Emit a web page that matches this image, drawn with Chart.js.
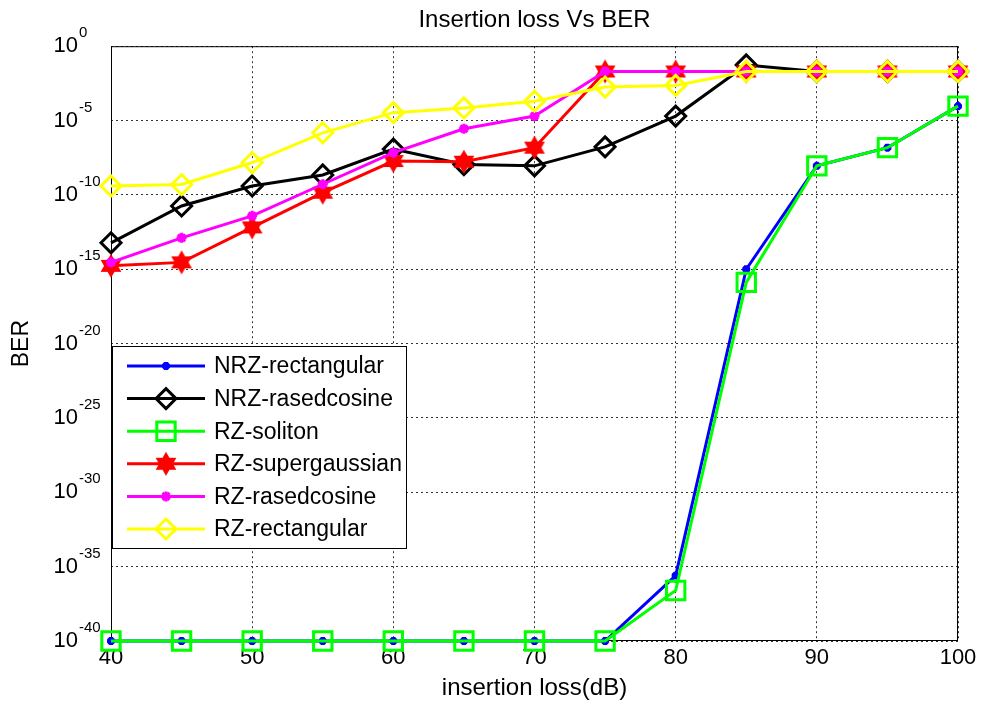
<!DOCTYPE html>
<html>
<head>
<meta charset="utf-8">
<script src="https://cdn.jsdelivr.net/npm/chart.js@4.4.0/dist/chart.umd.min.js"></script>
<style>
  html, body { margin: 0; padding: 0; background: #fff; }
</style>
</head>
<body>
<canvas id="ber-chart" width="984" height="704"></canvas>
<script>
// insertion loss (dB) on x, BER on a log y axis
const insertionLoss = [40, 45, 50, 55, 60, 65, 70, 75, 80, 85, 90, 95, 100];

const nrzRectangular = [1e-40, 1e-40, 1e-40, 1e-40, 1e-40, 1e-40, 1e-40, 1e-40, 2.5e-36, 1e-15, 9e-9, 1.5e-7, 9.3e-5];
const nrzRasedcosine = [6e-14, 1.8e-11, 4e-10, 2.2e-9, 1.2e-7, 1.1e-8, 9e-9, 1.7e-7, 2e-5, 0.055, 0.02, 0.02, 0.02];
const rzSoliton = [1e-40, 1e-40, 1e-40, 1e-40, 1e-40, 1e-40, 1e-40, 1e-40, 2.5e-37, 1.3e-16, 9e-9, 1.5e-7, 9.3e-5];
const rzSupergaussian = [1.7e-15, 2.9e-15, 6.5e-13, 1.4e-10, 1.9e-8, 1.7e-8, 1.5e-7, 0.02, 0.02, 0.02, 0.02, 0.02, 0.02];
const rzRasedcosine = [2.9e-15, 1.3e-13, 3.9e-12, 5.2e-10, 6.9e-8, 2.8e-6, 2e-5, 0.02, 0.02, 0.02, 0.02, 0.02, 0.02];
const rzRectangular = [4e-10, 5e-10, 1.5e-8, 1.5e-6, 3.4e-5, 7e-5, 2e-4, 1.8e-3, 2.3e-3, 0.02, 0.02, 0.02, 0.02];

const seriesNames = ['NRZ-rectangular', 'NRZ-rasedcosine', 'RZ-soliton', 'RZ-supergaussian', 'RZ-rasedcosine', 'RZ-rectangular'];
const yExponents = [0, -5, -10, -15, -20, -25, -30, -35, -40];
const xTicks = [40, 50, 60, 70, 80, 90, 100];

const FONT = 'Liberation Sans, Arial, Helvetica, sans-serif';
Chart.defaults.font.family = FONT;
Chart.defaults.color = '#000';

// six pointed star marker for the supergaussian curve
function hexagram(color, r) {
  const c = document.createElement('canvas');
  const s = Math.ceil(2 * r + 6);
  c.width = s; c.height = s;
  const g = c.getContext('2d');
  g.fillStyle = color; g.strokeStyle = color; g.lineWidth = 2;
  [-Math.PI / 2, Math.PI / 2].forEach(function (a0) {
    g.beginPath();
    for (let k = 0; k < 3; k++) {
      const a = a0 + k * 2 * Math.PI / 3;
      g.lineTo(s / 2 + r * Math.cos(a), s / 2 + r * Math.sin(a));
    }
    g.closePath(); g.fill(); g.stroke();
  });
  return c;
}

function line(label, data, color, pointStyle, radius, filled, order) {
  return {
    label: label,
    data: data,
    borderColor: color,
    backgroundColor: color,
    borderWidth: 3,
    pointStyle: pointStyle,
    pointRadius: radius,
    pointBorderWidth: 3,
    pointBorderColor: color,
    pointBackgroundColor: filled ? color : 'rgba(0,0,0,0)',
    tension: 0,
    clip: false,
    order: order
  };
}

const datasets = [
  line(seriesNames[0], nrzRectangular, '#0000ff', 'star', 4, true, 5),
  line(seriesNames[1], nrzRasedcosine, '#000000', 'rectRot', 10, false, 4),
  line(seriesNames[2], rzSoliton, '#00ff00', 'rect', 13, false, 3),
  line(seriesNames[3], rzSupergaussian, '#ff0000', hexagram('#ff0000', 10), 10, true, 2),
  line(seriesNames[4], rzRasedcosine, '#ff00ff', 'star', 5, true, 1),
  line(seriesNames[5], rzRectangular, '#ffff00', 'rectRot', 10, false, 0)
];

const matlabLook = {
  id: 'matlabLook',
  beforeDatasetsDraw(chart) {
    const a = chart.chartArea, ctx = chart.ctx;
    ctx.save();
    ctx.strokeStyle = '#000';
    ctx.lineWidth = 1;
    ctx.strokeRect(a.left + 0.5, a.top + 0.5, a.right - a.left - 1, a.bottom - a.top - 1);
    ctx.restore();
  },
  afterDraw(chart) {
    const ctx = chart.ctx, y = chart.scales.y, a = chart.chartArea;
    ctx.save();
    // exponents of the 10^n tick labels
    ctx.font = '15px ' + FONT;
    ctx.fillStyle = '#000';
    ctx.textAlign = 'left';
    ctx.textBaseline = 'alphabetic';
    yExponents.forEach(function (e) {
      const py = y.getPixelForValue(Math.pow(10, e));
      ctx.fillText(String(e), 79, py - 9);
    });
    // legend box in the lower left of the axes
    const lx = a.left + 1, ly = 346, lw = 295, lh = 203;
    ctx.fillStyle = '#fff';
    ctx.fillRect(lx, ly, lw, lh);
    ctx.strokeStyle = '#000';
    ctx.lineWidth = 1;
    ctx.strokeRect(lx + 0.5, ly + 0.5, lw - 1, lh - 1);
    ctx.font = '23px ' + FONT;
    ctx.textBaseline = 'middle';
    chart.data.datasets.forEach(function (ds, i) {
      const ry = ly + 20 + i * 32.6;
      ctx.strokeStyle = ds.borderColor;
      ctx.lineWidth = 3;
      ctx.beginPath();
      ctx.moveTo(127, ry); ctx.lineTo(205, ry);
      ctx.stroke();
      ctx.fillStyle = ds.pointBackgroundColor;
      Chart.helpers.drawPoint(ctx, {
        pointStyle: ds.pointStyle, radius: ds.pointRadius,
        borderWidth: ds.pointBorderWidth, rotation: 0
      }, 166, ry);
      ctx.fillStyle = '#000';
      ctx.fillText(ds.label, 214, ry + 1);
    });
    ctx.restore();
  }
};

new Chart(document.getElementById('ber-chart'), {
  type: 'line',
  data: { labels: insertionLoss, datasets: datasets },
  options: {
    responsive: false,
    animation: false,
    devicePixelRatio: 1,
    layout: { padding: { top: 0, right: 26, bottom: 0, left: 0 } },
    plugins: {
      legend: { display: false },
      tooltip: { enabled: false },
      title: {
        display: true,
        text: 'Insertion loss Vs BER',
        fullSize: false,
        color: '#000',
        font: { size: 24, weight: 'normal' },
        padding: { top: 5, bottom: 11 }
      }
    },
    scales: {
      x: {
        type: 'linear',
        min: 40, max: 100,
        afterBuildTicks: function (s) { s.ticks = xTicks.map(function (v) { return { value: v }; }); },
        afterFit: function (s) { s.height = 63; },
        grid: { color: '#333', lineWidth: 1, drawTicks: false },
        border: { display: false, dash: [2, 3] },
        ticks: { padding: 4, font: { size: 22 }, color: '#000', maxRotation: 0 },
        title: { display: true, text: 'insertion loss(dB)', font: { size: 24 }, color: '#000', padding: { top: 0, bottom: 1 } }
      },
      y: {
        type: 'logarithmic',
        min: 1e-40, max: 1,
        afterBuildTicks: function (s) { s.ticks = yExponents.map(function (e) { return { value: Math.pow(10, e) }; }); },
        afterFit: function (s) { s.width = 111; },
        grid: { color: '#333', lineWidth: 1, drawTicks: false },
        border: { display: false, dash: [2, 3] },
        ticks: { padding: 33, font: { size: 22 }, color: '#000', callback: function () { return '10'; } },
        title: { display: true, text: 'BER', font: { size: 23 }, color: '#000', padding: { top: 8, bottom: 0 } }
      }
    }
  },
  plugins: [matlabLook]
});
</script>
</body>
</html>
